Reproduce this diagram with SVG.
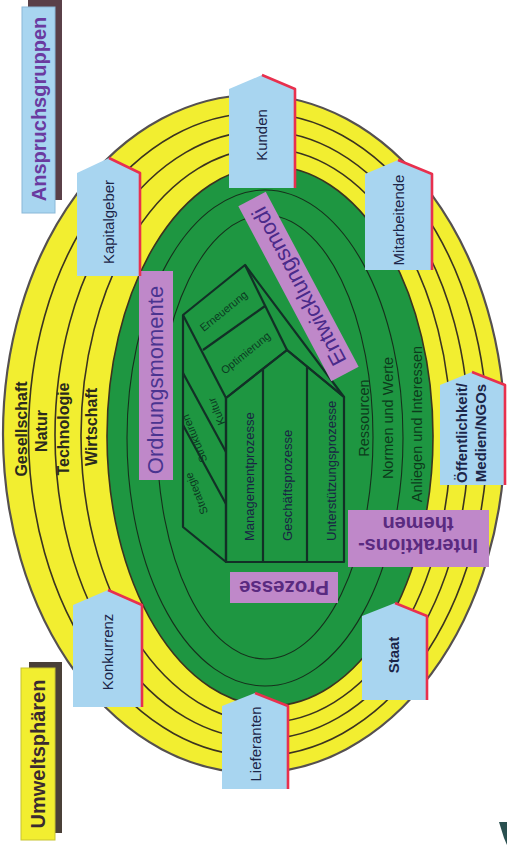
<svg xmlns="http://www.w3.org/2000/svg" width="507" height="857" viewBox="0 0 507 857">
<style>
text{font-family:"Liberation Sans",Arial,sans-serif}
.ring{fill:none;stroke:#3b3320;stroke-width:1.6}
.gline{fill:none;stroke:#16301c;stroke-width:1.1}
.stake{fill:#a8d5f0}
.red{fill:none;stroke:#e8304e;stroke-width:2.6;stroke-linejoin:round}
.lbl{font-size:15px;fill:#1c2548;text-anchor:middle}
.purple{fill:#bf88c9}
.band{font-size:16px;font-weight:bold;fill:#2a2a1e;text-anchor:middle}
.gband{font-size:14.5px;fill:#0d3b1c;text-anchor:middle}
.str{fill:none;stroke:#123026;stroke-width:2.2;stroke-linejoin:round}
.small{font-size:11px;fill:#0b3a22;text-anchor:middle}
.proc{font-size:13px;fill:#1a2444}
</style>

<g id="environment">
  <ellipse cx="254" cy="434" rx="251" ry="339" fill="#f2ee30" stroke="#555050" stroke-width="2.2"/>
  <ellipse class="ring" cx="258" cy="434.5" rx="229.5" ry="321.5"/>
  <ellipse class="ring" cx="262" cy="435" rx="207" ry="304"/>
  <ellipse class="ring" cx="266" cy="435.5" rx="185" ry="287"/>
  <ellipse cx="270" cy="436" rx="163" ry="270" fill="#1e9641" stroke="#3b3320" stroke-width="1.6"/>
  <ellipse class="gline" cx="265" cy="438" rx="138" ry="248"/>
  <ellipse class="gline" cx="265" cy="437" rx="108" ry="222"/>
</g>

<g id="sphere-labels">
  <text class="band" transform="translate(27,429) rotate(-90)">Gesellschaft</text>
  <text class="band" transform="translate(47,431) rotate(-90)">Natur</text>
  <text class="band" transform="translate(69,429) rotate(-90)">Technologie</text>
  <text class="band" transform="translate(97,427) rotate(-90)">Wirtschaft</text>
</g>

<g id="interaction-labels">
  <text class="gband" transform="translate(369,418) rotate(-90)">Ressourcen</text>
  <text class="gband" transform="translate(393,418) rotate(-90)">Normen und Werte</text>
  <text class="gband" transform="translate(422,424) rotate(-90)">Anliegen und Interessen</text>
</g>

<g id="structure">
  <polygon points="226,562 183,527 183,315 245,265 344,397 287,350 226,398" fill="#1e9641" class="str"/>
  <line class="str" x1="183" y1="315" x2="226" y2="398"/>
  <line class="str" x1="183" y1="373" x2="226" y2="452"/>
  <line class="str" x1="183" y1="425" x2="226" y2="504"/>
  <line class="str" x1="203" y1="350" x2="265" y2="306"/>
  <line class="str" x1="245" y1="265" x2="287" y2="350"/>
  <text class="small" transform="translate(226,314) rotate(-39)">Erneuerung</text>
  <text class="small" transform="translate(248,356) rotate(-39)">Optimierung</text>
  <text class="small" transform="translate(220,410) rotate(-112)">Kultur</text>
  <text class="small" transform="translate(198,437) rotate(-112)">Strukturen</text>
  <text class="small" transform="translate(200,492) rotate(-112)">Strategie</text>
</g>

<g id="processes-house">
  <polygon points="226,562 226,398 287,350 344,397 344,562" fill="#a8d5f0" class="str"/>
  <line class="str" x1="263" y1="369" x2="263" y2="562"/>
  <line class="str" x1="307" y1="367" x2="307" y2="562"/>
  <text class="proc" transform="translate(254,541) rotate(-90)">Managementprozesse</text>
  <text class="proc" transform="translate(292,541) rotate(-90)">Geschäftsprozesse</text>
  <text class="proc" transform="translate(336,541) rotate(-90)">Unterstützungsprozesse</text>
</g>

<g id="ordnungsmomente">
  <rect class="purple" x="139" y="271" width="34" height="209"/>
  <text transform="translate(163,380) rotate(-90)" font-size="22" fill="#4a3490" text-anchor="middle">Ordnungsmomente</text>
</g>

<g id="entwicklungsmodi">
  <g transform="translate(298.5,286.5) rotate(-118)">
    <rect class="purple" x="-99" y="-15.5" width="198" height="31"/>
    <text x="0" y="8" font-size="22" fill="#4a2a8a" text-anchor="middle">Entwicklungsmodi</text>
  </g>
</g>

<g id="interaktionsthemen">
  <rect class="purple" x="348" y="510" width="141" height="57"/>
  <g transform="rotate(180 418 538)">
    <text x="418" y="537" font-size="20" font-weight="bold" fill="#5a2a80" text-anchor="middle">Interaktions-</text>
    <text x="418" y="559" font-size="20" font-weight="bold" fill="#5a2a80" text-anchor="middle">themen</text>
  </g>
</g>

<g id="prozesse">
  <rect class="purple" x="230" y="572" width="108" height="31"/>
  <text transform="rotate(180 284 588)" x="284" y="595" font-size="20.5" font-weight="bold" fill="#5a2a80" text-anchor="middle">Prozesse</text>
</g>

<g id="kunden">
  <path class="stake" d="M229,188 L229,89 L262,75 L295,89 L295,188 Z"/>
  <path class="red" d="M262,75 L295,89 L295,188"/>
  <text class="lbl" transform="translate(267,135) rotate(-90)">Kunden</text>
</g>
<g id="kapitalgeber">
  <path class="stake" d="M77,276 L77,173 L109,158 L140,173 L140,276 Z"/>
  <path class="red" d="M109,158 L140,173 L140,276"/>
  <text class="lbl" transform="translate(114,222) rotate(-90)">Kapitalgeber</text>
</g>
<g id="mitarbeitende">
  <path class="stake" d="M365,270 L365,174 L398,160 L432,174 L432,270 Z"/>
  <path class="red" d="M398,160 L432,174 L432,270"/>
  <text class="lbl" transform="translate(404,220) rotate(-90)">Mitarbeitende</text>
</g>
<g id="oeffentlichkeit">
  <path class="stake" d="M440,485 L440,385 L472,372 L505,385 L505,485 Z"/>
  <path class="red" d="M472,372 L505,385 L505,485"/>
  <text class="lbl" font-weight="bold" transform="translate(467,433) rotate(-90)">Öffentlichkeit/</text>
  <text class="lbl" font-weight="bold" transform="translate(486,433) rotate(-90)">Medien/NGOs</text>
</g>
<g id="konkurrenz">
  <path class="stake" d="M73,707 L73,605 L108,590 L142,605 L142,707 Z"/>
  <path class="red" d="M108,590 L142,605 L142,707"/>
  <text class="lbl" transform="translate(113,652) rotate(-90)">Konkurrenz</text>
</g>
<g id="lieferanten">
  <path class="stake" d="M222,789 L222,706 L255,693 L288,706 L288,789 Z"/>
  <path class="red" d="M255,693 L288,706 L288,789"/>
  <text class="lbl" transform="translate(261,744) rotate(-90)">Lieferanten</text>
</g>
<g id="staat">
  <path class="stake" d="M362,700 L362,616 L395,603 L427,616 L427,700 Z"/>
  <path class="red" d="M395,603 L427,616 L427,700"/>
  <text class="lbl" font-weight="bold" transform="translate(399,655) rotate(-90)">Staat</text>
</g>

<g id="anspruchsgruppen">
  <rect x="28" y="0" width="34" height="200" fill="#5a4048"/>
  <rect x="22" y="7" width="33" height="206" fill="#a8d5f0" stroke="#8ab8d8" stroke-width="1"/>
  <text transform="translate(46,109) rotate(-90)" font-size="20" font-weight="bold" fill="#6a3aa0" text-anchor="middle">Anspruchsgruppen</text>
</g>
<g id="umweltsphaeren">
  <rect x="29" y="662" width="33" height="171" fill="#4a4038"/>
  <rect x="21" y="668" width="34" height="172" fill="#f2ee30" stroke="#c8c430" stroke-width="1"/>
  <text transform="translate(45,754) rotate(-90)" font-size="20" font-weight="bold" fill="#3a2a30" text-anchor="middle">Umweltsphären</text>
</g>

<polygon points="499,822 507,822 507,845 504,838" fill="#2a5050"/>
</svg>
